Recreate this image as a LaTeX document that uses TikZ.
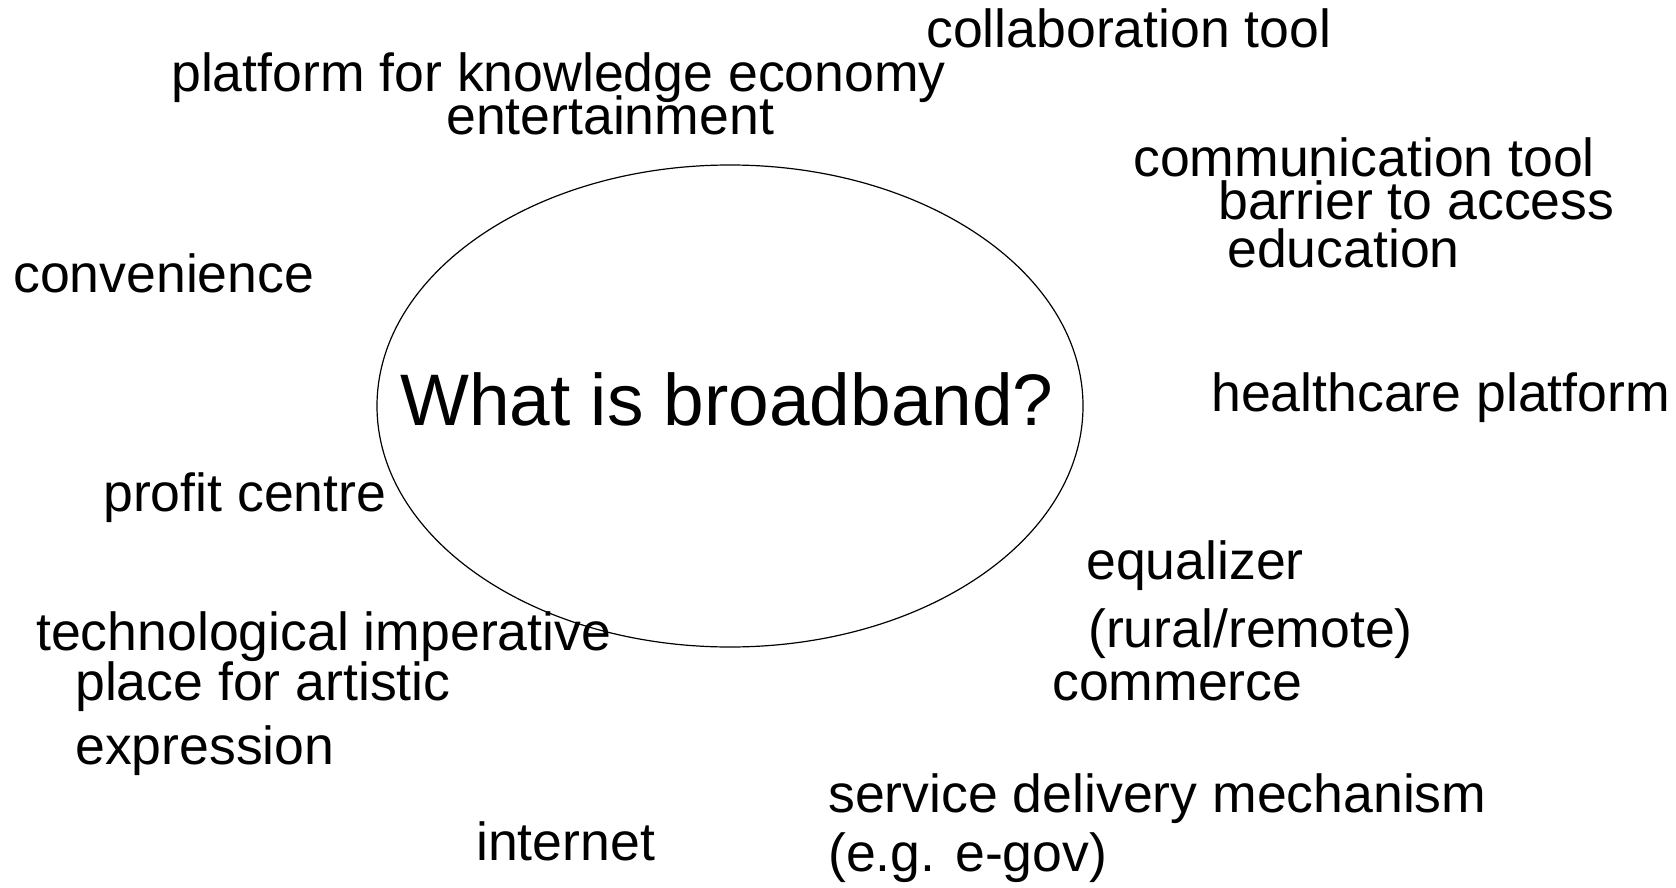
\documentclass[tikz,border=0pt]{standalone}
\usepackage{fontspec}
\setmainfont{Liberation Sans}
\tikzset{
        word/.style={anchor=base west, inner sep=0pt,
                     font=\fontsize{53.6}{64}\selectfont},
        question/.style={inner sep=0pt, font=\fontsize{73}{88}\selectfont},
        ring/.style={line width=1.2pt},
}
\begin{document}
\begin{tikzpicture}[x=1pt, y=-1pt]
    \useasboundingbox (0,0) rectangle (1676,888);

    \coordinate (mid) at (730,406);
    \draw[ring] (mid) ellipse [x radius=353, y radius=241];
    \node[question, anchor=base] (q) at (727,425) {What is broadband?};

    \node[word] (collab) at (926,48) {collaboration tool};
    \node[word] (platform) at (171,92) {platform for knowledge economy};
    \node[word] (entert) at (446,135) {entertainment};
    \node[word] (comm) at (1133,176) {communication tool};
    \node[word] (barrier) at (1218,219) {barrier to access};
    \node[word] (edu) at (1227,267) {education};
    \node[word] (conv) at (13,292) {convenience};
    \node[word] (health) at (1211,411) {healthcare platform};
    \node[word] (profit) at (103,511) {profit centre};
    \node[word] (equal) at (1086,579) {equalizer};
    \node[word] (rural) at (1088,647) {(rural/remote)};
    \node[word] (techno) at (36,650) {technological imperative};
    \node[word] (commerce) at (1052,700) {commerce};
    \node[word] (artistic) at (75,700) {place for artistic};
    \node[word] (express) at (75,764) {expression};
    \node[word] (service) at (828,812) {service delivery mechanism};
    \node[word] (internet) at (476,860) {internet};
    \node[word] (egov) at (828,871) {(e.g. e-gov)};
\end{tikzpicture}
\end{document}
